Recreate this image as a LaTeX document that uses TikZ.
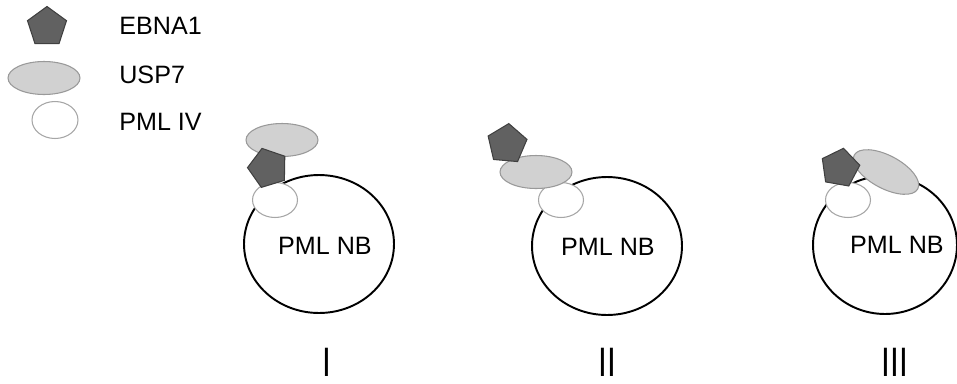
\documentclass[tikz,border=0pt]{standalone}
\usepackage{fontspec}
\setmainfont{Liberation Sans}
\usetikzlibrary{shapes.geometric}
\begin{document}
\begin{tikzpicture}[x=0.02cm,y=-0.02cm,
	ebna/.style={regular polygon, regular polygon sides=5, draw=black!75, fill=black!62, line width=0.6pt, minimum size=0.82cm, inner sep=0pt},
	usp/.style={ellipse, draw=black!40, fill=black!18, line width=0.6pt, minimum width=1.44cm, minimum height=0.66cm, inner sep=0pt},
	pml/.style={ellipse, draw=black!35, fill=white, line width=0.6pt, minimum width=0.9cm, minimum height=0.7cm, inner sep=0pt},
	nb/.style={ellipse, draw=black, fill=white, line width=1.1pt, minimum width=3cm, minimum height=2.76cm, inner sep=0pt},
	lbl/.style={font=\fontsize{14.3}{16}\selectfont, inner sep=0pt},
	num/.style={font=\fontsize{18}{20}\selectfont, inner sep=0pt, yscale=1.3}]
	\useasboundingbox (0,0) rectangle (957,383);
	
	\node (ebna0) [ebna] at (47,27) {};
	\node (usp0) [usp] at (44,78) {};
	\node (pml0) [pml, minimum width=0.92cm, minimum height=0.74cm] at (55,120) {};
	\node (ebnatext) [lbl, anchor=west] at (119,26) {EBNA1};
	\node (usptext) [lbl, anchor=west] at (119,75) {USP7};
	\node (pmltext) [lbl, anchor=west] at (119,122) {PML IV};
	
	\node (nb1) [nb] at (319,244) {};
	\node (pml1) [pml] at (275,200) {};
	\node (usp1) [usp] at (282,140) {};
	\node (ebna1) [ebna, rotate=17] at (268,168) {};
	\node (nbtext1) [lbl] at (325,246) {PML NB};
	
	\node (nb2) [nb] at (607,246) {};
	\node (pml2) [pml] at (561,200) {};
	\node (usp2) [usp] at (536,172) {};
	\node (ebna2) [ebna, rotate=-5] at (507,144) {};
	\node (nbtext2) [lbl] at (608,247) {PML NB};
	
	\node (nb3) [nb, minimum width=2.88cm] at (885,245) {};
	\node (pml3) [pml] at (848,200) {};
	\node (usp3) [usp, rotate=-28] at (886,172) {};
	\node (ebna3) [ebna, rotate=-10, minimum size=0.8cm] at (840,168) {};
	\node (nbtext3) [lbl] at (897,245) {PML NB};
	
	\node (num1) [num, anchor=north] at (327,348) {I};
	\node (num2) [num, anchor=north] at (607,348) {II};
	\node (num3) [num, anchor=north] at (895,348) {III};
\end{tikzpicture}
\end{document}
